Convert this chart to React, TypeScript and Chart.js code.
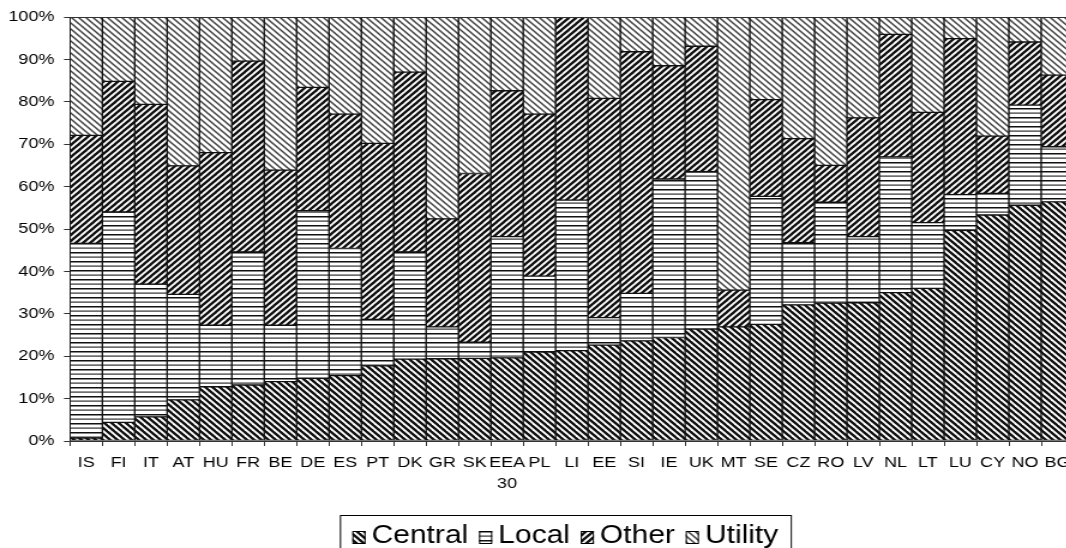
import React, { useEffect, useRef } from 'react';
import { Chart, registerables } from 'chart.js';

Chart.register(...registerables);

const categories: (string | string[])[] = [
  'IS', 'FI', 'IT', 'AT', 'HU', 'FR', 'BE', 'DE', 'ES', 'PT', 'DK', 'GR', 'SK', ['EEA', '30'], 'PL',
  'LI', 'EE', 'SI', 'IE', 'UK', 'MT', 'SE', 'CZ', 'RO', 'LV', 'NL', 'LT', 'LU', 'CY', 'NO', 'BG',
];

const central = [0.7, 4.4, 5.7, 9.7, 12.8, 13.2, 14.0, 14.8, 15.4, 17.7, 19.3, 19.4, 19.5, 19.6, 21.0,
  21.3, 22.6, 23.6, 24.4, 26.4, 26.9, 27.5, 32.1, 32.5, 32.6, 35.0, 36.0, 49.7, 53.3, 55.6, 56.4];
const local = [45.9, 49.6, 31.3, 24.9, 14.5, 31.4, 13.3, 39.5, 30.0, 11.0, 25.3, 7.5, 3.8, 28.6, 17.9,
  35.5, 6.5, 11.2, 37.4, 37.1, 0, 30.2, 14.7, 23.8, 15.6, 32.0, 15.5, 8.4, 5.1, 23.6, 13.0];
const other = [25.5, 30.8, 42.4, 30.3, 40.7, 45.0, 36.6, 29.1, 31.7, 41.5, 42.4, 25.5, 39.8, 34.4, 38.2,
  43.2, 51.7, 57.0, 26.7, 29.6, 8.7, 22.8, 24.5, 8.7, 28.0, 28.9, 26.0, 36.8, 13.5, 14.9, 16.9];
const utility = [27.9, 15.2, 20.6, 35.1, 32.0, 10.4, 36.1, 16.6, 22.9, 29.8, 13.0, 47.6, 36.9, 17.4, 22.9,
  0, 19.2, 8.2, 11.5, 6.9, 64.4, 19.5, 28.7, 35.0, 23.8, 4.1, 22.5, 5.1, 28.1, 5.9, 13.7];

const seriesNames = ['Central', 'Local', 'Other', 'Utility'];
const yTickValues = [0, 10, 20, 30, 40, 50, 60, 70, 80, 90, 100];

// horizontal stretch of the whole picture
const SX = 1.2;
const LW = 917; // logical canvas width
const LH = 560; // canvas height
const FONT = 'Arial, "Liberation Sans", sans-serif';

function diagPattern(p: number, dir: 'down' | 'up', lw: number, color: string): CanvasPattern {
  const c = document.createElement('canvas');
  c.width = p;
  c.height = p;
  const g = c.getContext('2d')!;
  g.fillStyle = '#ffffff';
  g.fillRect(0, 0, p, p);
  g.strokeStyle = color;
  g.lineWidth = lw;
  g.lineCap = 'square';
  for (let k = -1; k <= 1; k++) {
    g.beginPath();
    if (dir === 'down') {
      g.moveTo(k * p - 1, -1);
      g.lineTo(k * p + p + 1, p + 1);
    } else {
      g.moveTo(k * p - 1, p + 1);
      g.lineTo(k * p + p + 1, -1);
    }
    g.stroke();
  }
  return g.createPattern(c, 'repeat')!;
}

function hPattern(): CanvasPattern {
  const c = document.createElement('canvas');
  c.width = 4;
  c.height = 9;
  const g = c.getContext('2d')!;
  g.fillStyle = '#ffffff';
  g.fillRect(0, 0, 4, 9);
  g.fillStyle = '#111111';
  g.fillRect(0, 0, 4, 1.5);
  g.fillStyle = '#333333';
  g.fillRect(0, 4.5, 4, 1.2);
  return g.createPattern(c, 'repeat')!;
}

const frameAndLegend = {
  id: 'frameAndLegend',
  afterDatasetsDraw(chart: any) {
    const { ctx, chartArea } = chart;
    ctx.save();
    ctx.strokeStyle = '#333';
    ctx.lineWidth = 1;
    ctx.beginPath();
    ctx.moveTo(chartArea.left, chartArea.top + 0.5);
    ctx.lineTo(chartArea.right, chartArea.top + 0.5);
    ctx.stroke();
    ctx.restore();
  },
  afterDraw(chart: any) {
    const ctx: CanvasRenderingContext2D = chart.ctx;
    const left = 340 / SX;
    const right = 791 / SX;
    const top = 515;
    const bottom = LH - 1;
    ctx.save();
    ctx.strokeStyle = '#000';
    ctx.lineWidth = 1;
    ctx.strokeRect(left + 0.5, top + 0.5, right - left, bottom - top);
    ctx.font = `25px ${FONT}`;
    const items = chart.data.datasets.map((ds: any) => ({ label: ds.label, fill: ds.backgroundColor }));
    const iconW = 11;
    const iconH = 13;
    const gapIcon = 5;
    const gapItem = 9;
    const widths = items.map((it: any) => ctx.measureText(it.label).width);
    const total = widths.reduce((a: number, w: number) => a + iconW + gapIcon + w, 0) + gapItem * (items.length - 1);
    let x = (left + right) / 2 - total / 2;
    const cy = 537.5;
    ctx.textBaseline = 'middle';
    ctx.textAlign = 'left';
    items.forEach((it: any, i: number) => {
      ctx.fillStyle = it.fill;
      ctx.fillRect(x, cy - iconH / 2, iconW, iconH);
      ctx.strokeStyle = '#000';
      ctx.strokeRect(x + 0.5, cy - iconH / 2 + 0.5, iconW - 1, iconH - 1);
      x += iconW + gapIcon;
      ctx.fillStyle = '#000';
      ctx.fillText(it.label, x, cy - 1);
      x += widths[i] + gapItem;
    });
    ctx.restore();
  },
};

export default function App() {
  const ref = useRef<HTMLCanvasElement>(null);

  useEffect(() => {
    document.body.style.margin = '0';
    const canvas = ref.current!;
    const fills = [
      diagPattern(6, 'down', 2.3, '#111111'),
      hPattern(),
      diagPattern(6, 'up', 2.3, '#111111'),
      diagPattern(6, 'down', 1.5, '#444444'),
    ];
    const values = [central, local, other, utility];
    const chart = new Chart(canvas, {
      type: 'bar',
      data: {
        labels: categories as any,
        datasets: seriesNames.map((name, i) => ({
          label: name,
          data: values[i],
          backgroundColor: fills[i] as any,
          borderColor: '#111111',
          borderWidth: 1,
          borderSkipped: false,
          barPercentage: 1,
          categoryPercentage: 1,
        })),
      },
      options: {
        responsive: false,
        animation: false,
        devicePixelRatio: 1,
        layout: { padding: { top: 17, left: 0, right: LW - 1074 / SX, bottom: LH - 441 - 60 } },
        plugins: { legend: { display: false }, tooltip: { enabled: false } },
        scales: {
          x: {
            stacked: true,
            grid: { display: true, drawOnChartArea: false, drawTicks: true, tickLength: 5, color: '#333', offset: true },
            border: { display: true, color: '#333', width: 1 },
            ticks: {
              autoSkip: false,
              maxRotation: 0,
              minRotation: 0,
              padding: 6,
              color: '#000',
              font: { family: FONT, size: 15, lineHeight: 1.4 },
            },
            afterFit: (scale: any) => { scale.height = 60; },
          },
          y: {
            stacked: true,
            min: 0,
            max: 100,
            afterBuildTicks: (scale: any) => { scale.ticks = yTickValues.map((v) => ({ value: v })); },
            grid: { display: true, drawOnChartArea: false, drawTicks: true, tickLength: 5, color: '#333' },
            border: { display: true, color: '#333', width: 1 },
            ticks: {
              padding: 8,
              color: '#000',
              font: { family: FONT, size: 15 },
              callback: (v: any) => `${v}%`,
            },
            afterFit: (scale: any) => { scale.width = 70 / SX; },
          },
        },
      },
      plugins: [frameAndLegend],
    });
    return () => chart.destroy();
  }, []);

  return (
    <div style={{ position: 'fixed', left: 0, top: 0, width: 1066, height: 548, overflow: 'hidden', background: '#fff' }}>
      <canvas
        ref={ref}
        width={LW}
        height={LH}
        style={{ width: `${LW * SX}px`, height: `${LH}px`, display: 'block' }}
      />
    </div>
  );
}
